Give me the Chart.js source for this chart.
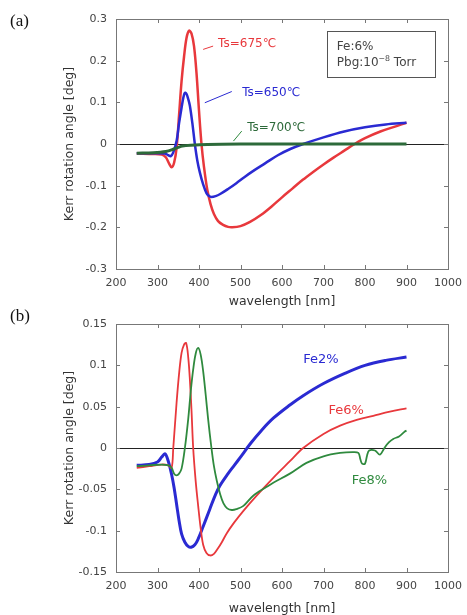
<!DOCTYPE html>
<html>
<head>
<meta charset="utf-8">
<script src="https://cdn.jsdelivr.net/npm/chart.js@4.4.0/dist/chart.umd.min.js"></script>
<style>
  html, body { margin: 0; padding: 0; background: #fff; }
  body { width: 467px; height: 615px; position: relative; overflow: hidden; }
  .panel { position: absolute; left: 0; width: 467px; height: 310px; }
  #wrapA { top: 0; }
  #wrapB { top: 305px; }
  .tag { position: absolute; left: 10px; font: 17px "Liberation Serif", "Times New Roman", serif; color: #111; }
</style>
</head>
<body>
<div class="panel" id="wrapA"><canvas id="chartA" width="467" height="310"></canvas></div>
<div class="panel" id="wrapB"><canvas id="chartB" width="467" height="310"></canvas></div>
<div class="tag" style="top:11px">(a)</div>
<div class="tag" style="top:306px">(b)</div>
<script>
// (a) Fe 6%, different substrate temperatures
const wlTs675 = [250,280,310,320,328,334,340,346,352,358,364,370,376,382,388,394,400,406,412,420,428,436,446,458,470,480,500,523,550,575,600,625,650,675,700,725,750,775,800,837,876,900];
const kerrTs675 = [-0.023,-0.024,-0.025,-0.032,-0.047,-0.056,-0.045,-0.009,0.07,0.151,0.21,0.255,0.272,0.265,0.235,0.17,0.08,0,-0.055,-0.11,-0.145,-0.168,-0.185,-0.194,-0.199,-0.2,-0.197,-0.187,-0.17,-0.15,-0.128,-0.107,-0.086,-0.067,-0.049,-0.032,-0.016,0,0.014,0.03,0.043,0.051];

const wlTs650 = [250,290,318,326,332,338,346,352,358,362,366,370,374,378,384,390,396,402,410,418,424,430,440,451,470,490,510,530,560,590,620,651,700,750,800,850,900];
const kerrTs650 = [-0.022,-0.022,-0.023,-0.027,-0.029,-0.02,0.007,0.05,0.087,0.11,0.123,0.12,0.108,0.092,0.05,0,-0.04,-0.068,-0.097,-0.118,-0.125,-0.127,-0.125,-0.12,-0.108,-0.094,-0.079,-0.065,-0.046,-0.027,-0.012,0,0.016,0.03,0.04,0.047,0.051];

const wlTs700 = [250,290,320,340,350,360,380,420,500,600,700,800,900];
const kerrTs700 = [-0.022,-0.021,-0.018,-0.012,-0.008,-0.005,-0.003,-0.001,0,0,0,0,0];

// (b) different Fe content
const wlFe2 = [250,280,300,310,318,326,334,340,346,352,358,366,374,381,390,398,410,426,440,451,470,485,500,525,550,579,619,650,700,750,800,850,900];
const kerrFe2 = [-0.021,-0.02,-0.017,-0.011,-0.007,-0.016,-0.032,-0.048,-0.068,-0.088,-0.104,-0.114,-0.119,-0.12,-0.117,-0.11,-0.095,-0.074,-0.056,-0.045,-0.031,-0.021,-0.011,0.006,0.021,0.036,0.052,0.063,0.078,0.09,0.1,0.106,0.11];

const wlFe6 = [250,280,310,326,334,338,346,352,358,364,369,374,378,382,386,392,398,404,410,418,427,436,445,455,467,485,507,540,579,619,651,700,740,780,820,860,900];
const kerrFe6 = [-0.024,-0.022,-0.02,-0.021,-0.024,0,0.055,0.09,0.115,0.125,0.127,0.11,0.083,0.045,0,-0.04,-0.07,-0.097,-0.117,-0.127,-0.13,-0.128,-0.122,-0.114,-0.103,-0.09,-0.076,-0.057,-0.036,-0.016,0,0.017,0.027,0.034,0.039,0.044,0.048];

const wlFe8 = [250,280,310,326,334,340,346,352,358,366,374,380,386,392,398,404,410,416,422,430,436,443,451,459,468,479,490,507,530,563,579,619,659,700,740,770,784,789,793,800,805,810,824,836,848,858,868,882,896,900];
const kerrFe8 = [-0.022,-0.021,-0.02,-0.021,-0.024,-0.031,-0.033,-0.031,-0.025,0,0.035,0.068,0.095,0.114,0.121,0.113,0.093,0.065,0.035,0,-0.022,-0.04,-0.056,-0.067,-0.073,-0.075,-0.074,-0.07,-0.058,-0.047,-0.042,-0.031,-0.018,-0.01,-0.006,-0.005,-0.006,-0.014,-0.019,-0.019,-0.009,-0.003,-0.003,-0.008,0.001,0.007,0.011,0.014,0.02,0.021];

const xTicks = {min: 200, max: 1000, step: 100};
const yTicksA = {min: -0.3, max: 0.3, step: 0.1};
const yTicksB = {min: -0.15, max: 0.15, step: 0.05};

const FONT = '"DejaVu Sans", Verdana, sans-serif';

function toPoints(xs, ys) {
  return xs.map((x, i) => ({x: x, y: ys[i]}));
}

function series(xs, ys, color, width) {
  return {
    data: toPoints(xs, ys),
    borderColor: color,
    borderWidth: width,
    pointRadius: 0,
    fill: false,
    tension: 0.35,
  };
}

// frame, inward tick marks, zero line and the text notes
const framePlugin = {
  id: 'frame',
  beforeDatasetsDraw(chart) {
    const {ctx, chartArea: a, scales: {y}} = chart;
    const y0 = Math.round(y.getPixelForValue(0)) + 0.5;
    ctx.save();
    ctx.strokeStyle = '#222';
    ctx.lineWidth = 1;
    ctx.beginPath();
    ctx.moveTo(a.left, y0);
    ctx.lineTo(a.right, y0);
    ctx.stroke();
    ctx.restore();
  },
  afterDatasetsDraw(chart) {
    const {ctx, chartArea: a, scales: {x, y}} = chart;
    const notes = chart.options.plugins.notes || {};
    ctx.save();
    ctx.strokeStyle = '#777';
    ctx.lineWidth = 1;
    ctx.strokeRect(a.left + 0.5, a.top + 0.5, a.right - a.left, a.bottom - a.top);
    ctx.beginPath();
    x.ticks.forEach(t => {
      const px = Math.round(x.getPixelForValue(t.value)) + 0.5;
      ctx.moveTo(px, a.bottom); ctx.lineTo(px, a.bottom - 4);
      ctx.moveTo(px, a.top); ctx.lineTo(px, a.top + 4);
    });
    y.ticks.forEach(t => {
      const py = Math.round(y.getPixelForValue(t.value)) + 0.5;
      ctx.moveTo(a.left, py); ctx.lineTo(a.left + 4, py);
      ctx.moveTo(a.right, py); ctx.lineTo(a.right - 4, py);
    });
    ctx.stroke();

    (notes.leaders || []).forEach(l => {
      ctx.strokeStyle = l.color;
      ctx.lineWidth = 1;
      ctx.beginPath();
      ctx.moveTo(x.getPixelForValue(l.from[0]), y.getPixelForValue(l.from[1]));
      ctx.lineTo(x.getPixelForValue(l.to[0]), y.getPixelForValue(l.to[1]));
      ctx.stroke();
    });

    if (notes.box) {
      const b = notes.box;
      const x1 = Math.round(x.getPixelForValue(b.x0)) + 0.5;
      const y1 = Math.round(y.getPixelForValue(b.y0)) + 0.5;
      const x2 = Math.round(x.getPixelForValue(b.x1)) + 0.5;
      const y2 = Math.round(y.getPixelForValue(b.y1)) + 0.5;
      ctx.fillStyle = '#fff';
      ctx.fillRect(x1, y1, x2 - x1, y2 - y1);
      ctx.strokeStyle = '#555';
      ctx.strokeRect(x1, y1, x2 - x1, y2 - y1);
    }

    ctx.textAlign = 'left';
    ctx.textBaseline = 'middle';
    (notes.labels || []).forEach(l => {
      const size = l.size || 12;
      let px = x.getPixelForValue(l.at[0]);
      const py = y.getPixelForValue(l.at[1]);
      ctx.fillStyle = l.color;
      // a label may be split in parts, some of them superscript
      (l.parts || [{t: l.text}]).forEach(p => {
        ctx.font = (p.sup ? size * 0.65 : size) + 'px ' + FONT;
        ctx.fillText(p.t, px, p.sup ? py - size * 0.35 : py);
        px += ctx.measureText(p.t).width;
      });
    });
    ctx.restore();
  }
};

function makeChart(id, datasets, yt, xScaleHeight, xTitlePad, notes) {
  return new Chart(document.getElementById(id).getContext('2d'), {
    type: 'line',
    data: {datasets: datasets},
    plugins: [framePlugin],
    options: {
      responsive: false,
      animation: false,
      devicePixelRatio: 1,
      layout: {padding: {left: 60, right: 19, top: 19, bottom: 0}},
      plugins: {
        legend: {display: false},
        tooltip: {enabled: false},
        notes: notes,
      },
      scales: {
        x: {
          type: 'linear',
          min: xTicks.min,
          max: xTicks.max,
          grid: {display: false},
          border: {display: false},
          ticks: {stepSize: xTicks.step, padding: 0, color: '#444', font: {family: FONT, size: 11}, callback: v => String(v)},
          title: {display: true, text: 'wavelength [nm]', color: '#333', font: {family: FONT, size: 12.5}, padding: {top: 0, bottom: xTitlePad}},
          afterFit: scale => { scale.height = xScaleHeight; },
        },
        y: {
          min: yt.min,
          max: yt.max,
          grid: {display: false},
          border: {display: false},
          ticks: {
            stepSize: yt.step,
            padding: 1,
            color: '#444',
            font: {family: FONT, size: 11},
            callback: v => String(Number(v.toFixed(3))),
          },
          title: {display: true, text: 'Kerr rotation angle [deg]', color: '#333', font: {family: FONT, size: 12.5}, padding: {top: 2.5, bottom: 0}},
          afterFit: scale => { scale.width = 56; },
        },
      },
    },
  });
}

const RED = '#e8383c';
const BLUE = '#2a2ad2';
const GREEN = '#2f8a3e';

makeChart('chartA', [
  series(wlTs700, kerrTs700, '#2d6a3a', 3),
  series(wlTs650, kerrTs650, BLUE, 2.5),
  series(wlTs675, kerrTs675, RED, 2.5),
], yTicksA, 41, 0.5, {
  leaders: [
    {from: [410, 0.227], to: [434, 0.235], color: RED},
    {from: [414, 0.099], to: [479, 0.126], color: BLUE},
    {from: [483, 0.007], to: [503, 0.031], color: GREEN},
  ],
  labels: [
    {text: 'Ts=675℃', at: [446, 0.241], color: RED},
    {text: 'Ts=650℃', at: [504, 0.123], color: BLUE},
    {text: 'Ts=700℃', at: [516, 0.039], color: '#2d6a3a'},
    {text: 'Fe:6%', at: [732, 0.232], color: '#444'},
    {parts: [{t: 'Pbg:10'}, {t: '−8', sup: true}, {t: ' Torr'}], at: [732, 0.194], color: '#444'},
  ],
  box: {x0: 708, y0: 0.27, x1: 969, y1: 0.16},
});

makeChart('chartB', [
  series(wlFe8, kerrFe8, GREEN, 1.8),
  series(wlFe6, kerrFe6, RED, 1.8),
  series(wlFe2, kerrFe2, BLUE, 3),
], yTicksB, 43, -1.5, {
  labels: [
    {text: 'Fe2%', at: [651, 0.107], color: BLUE, size: 13},
    {text: 'Fe6%', at: [712, 0.045], color: RED, size: 13},
    {text: 'Fe8%', at: [768, -0.039], color: GREEN, size: 13},
  ],
});
</script>
</body>
</html>
